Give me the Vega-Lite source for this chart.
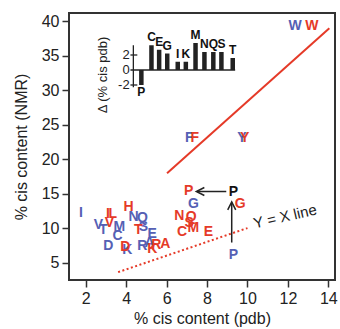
{
  "$schema": "https://vega.github.io/schema/vega-lite/v6.json",
  "autosize": "none",
  "width": 266,
  "height": 267,
  "padding": {"left": 69, "top": 13, "right": 5, "bottom": 49},
  "background": "white",
  "config": {
    "font": "Liberation Sans",
    "view": {"stroke": "#333", "strokeWidth": 2},
    "axis": {"domain": false, "grid": false, "tickColor": "#333", "tickWidth": 1.5, "tickSize": 7, "labelFontSize": 16, "labelColor": "#222", "labelPadding": 3, "labelFlush": false, "titleFontSize": 16, "titleFontWeight": "normal", "titleColor": "#222"}
  },
  "layer": [
    {
      "layer": [
        {
          "data": {"values": [{"x": 3.6, "y": 3.6}, {"x": 10.0, "y": 10.0}]},
          "mark": {"type": "line", "color": "#e53a28", "strokeWidth": 2, "strokeDash": [2, 2.5]},
          "encoding": {
            "x": {"field": "x", "type": "quantitative", "scale": {"domain": [1.17, 14.33], "nice": false, "zero": false}, "axis": {"tickCount": 7, "title": "% cis content (pdb)", "titlePadding": 4, "labelOverlap": false}},
            "y": {"field": "y", "type": "quantitative", "scale": {"domain": [2.46, 41.23], "nice": false, "zero": false}, "axis": {"tickCount": 8, "title": "% cis content (NMR)", "titlePadding": 12, "labelOverlap": false}}
          }
        },
        {
          "data": {"values": [{"x": 6.02, "y": 17.96}, {"x": 14.05, "y": 39.0}]},
          "mark": {"type": "line", "color": "#e53a28", "strokeWidth": 2},
          "encoding": {"x": {"field": "x", "type": "quantitative"}, "y": {"field": "y", "type": "quantitative"}}
        },
        {
          "data": {"values": [{"x": 8.95, "y": 15.31, "x2": 7.5, "y2": 15.31}, {"x": 9.22, "y": 7.9, "x2": 9.22, "y2": 13.7}]},
          "mark": {"type": "rule", "color": "#222", "strokeWidth": 1.5},
          "encoding": {"x": {"field": "x", "type": "quantitative"}, "y": {"field": "y", "type": "quantitative"}, "x2": {"field": "x2"}, "y2": {"field": "y2"}}
        },
        {
          "data": {"values": [{"x": 7.47, "y": 15.31}]},
          "mark": {"type": "point", "shape": "M2,-1L0,0L2,1", "size": 64, "filled": false, "stroke": "#222", "strokeWidth": 1.5, "opacity": 1},
          "encoding": {"x": {"field": "x", "type": "quantitative"}, "y": {"field": "y", "type": "quantitative"}}
        },
        {
          "data": {"values": [{"x": 9.22, "y": 13.8}]},
          "mark": {"type": "point", "shape": "M-1,2L0,0L1,2", "size": 64, "filled": false, "stroke": "#222", "strokeWidth": 1.5, "opacity": 1},
          "encoding": {"x": {"field": "x", "type": "quantitative"}, "y": {"field": "y", "type": "quantitative"}}
        },
        {
          "data": {"values": [
            {"aa": "I", "set": "blue", "x": 1.76, "y": 12.15},
            {"aa": "V", "set": "blue", "x": 2.63, "y": 10.45},
            {"aa": "T", "set": "blue", "x": 2.87, "y": 9.72},
            {"aa": "C", "set": "blue", "x": 3.57, "y": 8.85},
            {"aa": "M", "set": "blue", "x": 3.66, "y": 10.16},
            {"aa": "D", "set": "blue", "x": 3.12, "y": 7.4},
            {"aa": "K", "set": "blue", "x": 4.06, "y": 6.82},
            {"aa": "N", "set": "blue", "x": 4.36, "y": 11.61},
            {"aa": "Q", "set": "blue", "x": 4.8, "y": 11.46},
            {"aa": "S", "set": "blue", "x": 4.85, "y": 10.16},
            {"aa": "E", "set": "blue", "x": 5.29, "y": 9.14},
            {"aa": "R", "set": "blue", "x": 4.8, "y": 7.4},
            {"aa": "A", "set": "blue", "x": 5.15, "y": 7.83},
            {"aa": "G", "set": "blue", "x": 7.33, "y": 13.5},
            {"aa": "P", "set": "blue", "x": 9.31, "y": 6.09},
            {"aa": "F", "set": "blue", "x": 7.12, "y": 23.12},
            {"aa": "Y", "set": "blue", "x": 9.72, "y": 23.12},
            {"aa": "W", "set": "blue", "x": 12.36, "y": 39.35},
            {"aa": "I", "set": "red", "x": 3.1, "y": 12.05},
            {"aa": "L", "set": "red", "x": 3.33, "y": 12.05},
            {"aa": "V", "set": "red", "x": 3.17, "y": 10.74},
            {"aa": "H", "set": "red", "x": 4.12, "y": 12.99},
            {"aa": "T", "set": "red", "x": 4.6, "y": 9.72},
            {"aa": "D", "set": "red", "x": 3.96, "y": 7.25},
            {"aa": "K", "set": "red", "x": 5.29, "y": 6.96},
            {"aa": "R", "set": "red", "x": 5.49, "y": 7.54},
            {"aa": "A", "set": "red", "x": 5.94, "y": 7.69},
            {"aa": "N", "set": "red", "x": 6.63, "y": 11.75},
            {"aa": "Q", "set": "red", "x": 7.22, "y": 11.54},
            {"aa": "S", "set": "red", "x": 7.12, "y": 10.74},
            {"aa": "M", "set": "red", "x": 7.32, "y": 10.08},
            {"aa": "C", "set": "red", "x": 6.76, "y": 9.36},
            {"aa": "E", "set": "red", "x": 8.07, "y": 9.36},
            {"aa": "P", "set": "red", "x": 7.09, "y": 15.38},
            {"aa": "G", "set": "red", "x": 9.64, "y": 13.5},
            {"aa": "F", "set": "red", "x": 7.39, "y": 23.12},
            {"aa": "Y", "set": "red", "x": 9.86, "y": 23.12},
            {"aa": "W", "set": "red", "x": 13.18, "y": 39.35}
          ]},
          "mark": {"type": "text", "fontSize": 14, "fontWeight": "bold", "align": "center", "baseline": "middle"},
          "encoding": {
            "x": {"field": "x", "type": "quantitative"},
            "y": {"field": "y", "type": "quantitative"},
            "text": {"field": "aa"},
            "color": {"field": "set", "type": "nominal", "scale": {"domain": ["blue", "red"], "range": ["#5560b4", "#e53a28"]}, "legend": null}
          }
        },
        {
          "data": {"values": [{"aa": "P", "x": 9.3, "y": 15.31}]},
          "mark": {"type": "text", "fontSize": 14, "fontWeight": "bold", "color": "#111", "align": "center", "baseline": "middle"},
          "encoding": {"x": {"field": "x", "type": "quantitative"}, "y": {"field": "y", "type": "quantitative"}, "text": {"field": "aa"}}
        },
        {
          "data": {"values": [{"label": "Y = X line", "x": 11.86, "y": 11.68}]},
          "mark": {"type": "text", "fontSize": 15, "color": "#222", "align": "center", "baseline": "middle", "angle": 347},
          "encoding": {"x": {"field": "x", "type": "quantitative"}, "y": {"field": "y", "type": "quantitative"}, "text": {"field": "label"}}
        }
      ]
    },
    {
      "layer": [
        {
          "data": {"values": [
            {"aa": "P", "u": 0, "d": -2.0},
            {"aa": "C", "u": 1.25, "d": 3.3},
            {"aa": "E", "u": 2.2, "d": 2.7},
            {"aa": "G", "u": 3.2, "d": 2.2},
            {"aa": "I", "u": 4.5, "d": 1.1},
            {"aa": "K", "u": 5.5, "d": 1.1},
            {"aa": "M", "u": 6.7, "d": 3.6},
            {"aa": "N", "u": 7.8, "d": 2.4},
            {"aa": "Q", "u": 8.9, "d": 2.4},
            {"aa": "S", "u": 9.9, "d": 2.4},
            {"aa": "T", "u": 11.3, "d": 1.6}
          ]},
          "layer": [
            {
              "mark": {"type": "bar", "size": 4.5, "color": "#222"},
              "encoding": {
                "x": {"field": "u", "type": "quantitative", "scale": {"domain": [-8.33, 23.33], "nice": false, "zero": false}, "axis": null},
                "y": {"field": "d", "type": "quantitative", "scale": {"domain": [-28.0, 7.6], "nice": false, "zero": false}, "axis": null},
                "y2": {"datum": 0}
              }
            },
            {
              "transform": [{"filter": "datum.d > 0"}],
              "mark": {"type": "text", "fontSize": 12, "fontWeight": "bold", "color": "#111", "align": "center", "baseline": "bottom", "dy": -1},
              "encoding": {"x": {"field": "u", "type": "quantitative", "axis": null}, "y": {"field": "d", "type": "quantitative", "axis": null}, "text": {"field": "aa"}}
            },
            {
              "transform": [{"filter": "datum.d < 0"}],
              "mark": {"type": "text", "fontSize": 12, "fontWeight": "bold", "color": "#111", "align": "center", "baseline": "top", "dy": 2},
              "encoding": {"x": {"field": "u", "type": "quantitative", "axis": null}, "y": {"field": "d", "type": "quantitative", "axis": null}, "text": {"field": "aa"}}
            }
          ]
        },
        {
          "data": {"values": [
            {"u": -1.35, "u2": 11.6, "d": 0, "d2": 0},
            {"u": -0.99, "u2": -0.99, "d": 3.3, "d2": -2.3},
            {"u": -1.35, "u2": -0.5, "d": 2, "d2": 2},
            {"u": -1.35, "u2": -0.5, "d": -2, "d2": -2}
          ]},
          "mark": {"type": "rule", "color": "#222", "strokeWidth": 1.3},
          "encoding": {"x": {"field": "u", "type": "quantitative", "axis": null}, "x2": {"field": "u2"}, "y": {"field": "d", "type": "quantitative", "axis": null}, "y2": {"field": "d2"}}
        },
        {
          "data": {"values": [{"t": "2", "u": -1.45, "d": 2}, {"t": "0", "u": -1.45, "d": 0}, {"t": "-2", "u": -1.45, "d": -2}]},
          "mark": {"type": "text", "fontSize": 13, "color": "#222", "align": "right", "baseline": "middle"},
          "encoding": {"x": {"field": "u", "type": "quantitative", "axis": null}, "y": {"field": "d", "type": "quantitative", "axis": null}, "text": {"field": "t"}}
        },
        {
          "data": {"values": [{"t": "Δ (% cis pdb)", "u": -4.76, "d": -0.67}]},
          "mark": {"type": "text", "fontSize": 13, "color": "#222", "align": "center", "baseline": "middle", "angle": 270},
          "encoding": {"x": {"field": "u", "type": "quantitative", "axis": null}, "y": {"field": "d", "type": "quantitative", "axis": null}, "text": {"field": "t"}}
        }
      ]
    }
  ],
  "resolve": {"scale": {"x": "independent", "y": "independent"}}
}
